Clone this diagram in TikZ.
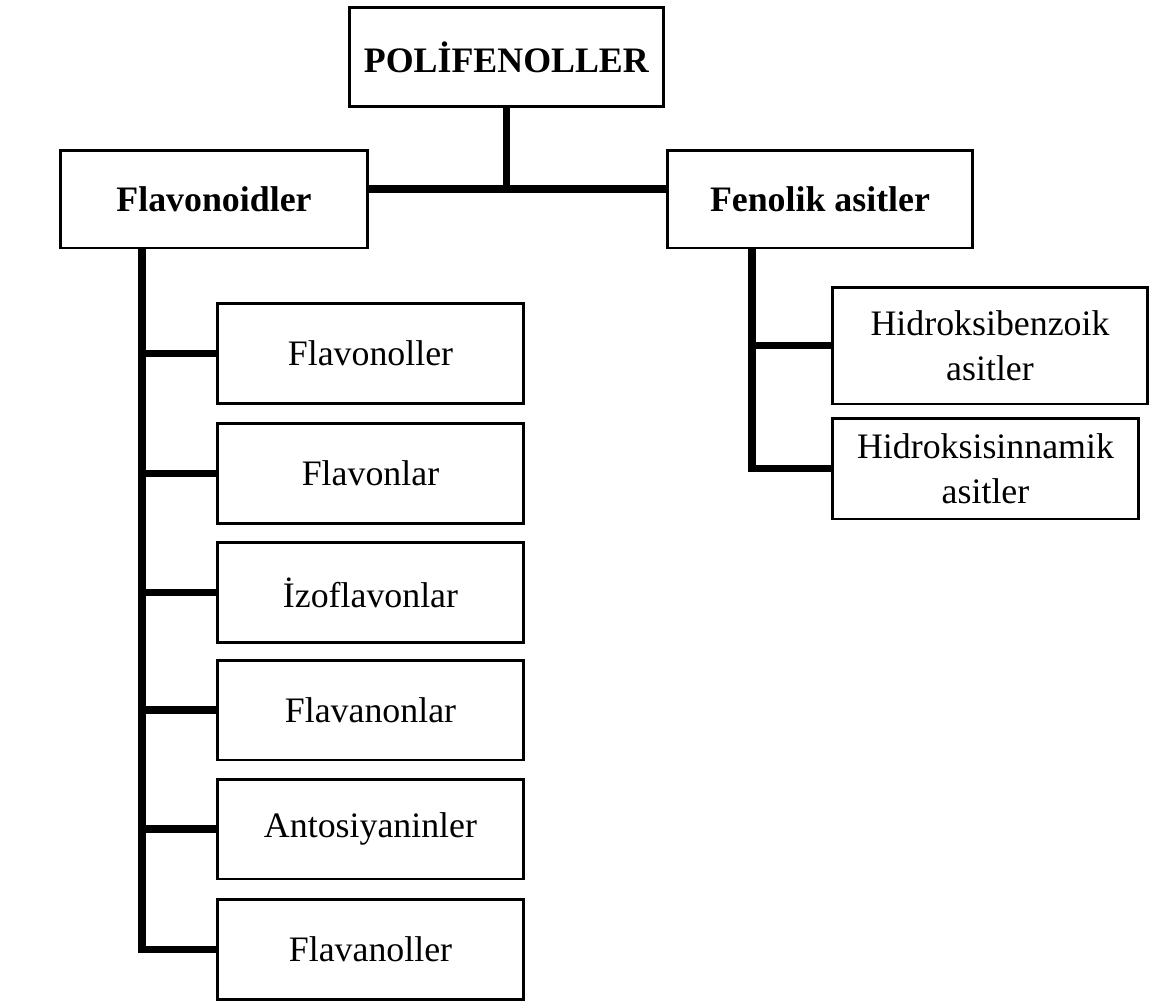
\documentclass[tikz,border=0pt]{standalone}
\usepackage{fontspec}
\setmainfont{Liberation Serif}
\begin{document}
\begin{tikzpicture}[
  x=0.02cm, y=-0.02cm,
  font=\fontsize{20.4}{25.5}\selectfont,
  st/.style={draw, line width=1.7pt, minimum width=6.14cm, minimum height=2cm, align=center, inner sep=0pt},
  conn/.style={draw, line width=4pt}
]
\useasboundingbox (0,0) rectangle (1150,1001);

% top level
\node[st, minimum width=6.3cm]  (pol)  at (506.5,57) {\textbf{POLİFENOLLER}};
\node[st, minimum width=6.16cm, minimum height=1.96cm] (flav) at (214,199) {\textbf{Flavonoidler}};
\node[st, minimum width=6.12cm, minimum height=1.96cm] (fen)  at (820,199) {\textbf{Fenolik asitler}};

\coordinate (hub) at (506.5,189);
\draw[conn] (pol.south) -- (hub);
\draw[conn] (flav.east |- hub) -- (fen.west |- hub);

% flavonoid sub-classes
\foreach \nm/\yy/\txt in {fl1/353.5/Flavonoller, fl2/473.5/Flavonlar, fl3/592.5/İzoflavonlar,
                          fl4/710/Flavanonlar, fl5/829/Antosiyaninler, fl6/949.5/Flavanoller}
  \node[st] (\nm) at (370.5,\yy) {\txt};

\coordinate (fspine) at (142,248);
\foreach \nm in {fl1,fl2,fl3,fl4,fl5,fl6}
  \draw[conn] (fspine) |- (\nm.west);

% phenolic acids
\node[st, minimum width=6.32cm, minimum height=2.34cm] (hb) at (990,345.5) {Hidroksibenzoik\\asitler};
\node[st, minimum height=2.02cm] (hs) at (985.5,468.5) {Hidroksisinnamik\\asitler};

\coordinate (pspine) at (752,248);
\foreach \nm in {hb,hs}
  \draw[conn] (pspine) |- (\nm.west);

\end{tikzpicture}
\end{document}
